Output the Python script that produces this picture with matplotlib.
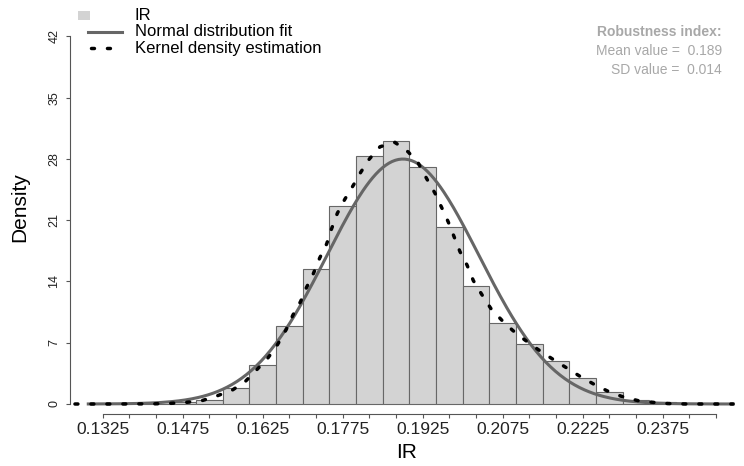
import numpy as np
import matplotlib.pyplot as plt
from matplotlib.lines import Line2D
from matplotlib.patches import Rectangle

plt.rcParams['font.family'] = ['Liberation Sans', 'DejaVu Sans']

# Data
bin_left = [0.140, 0.145, 0.150, 0.155, 0.160, 0.165, 0.170, 0.175, 0.180, 0.185, 0.190,
            0.195, 0.200, 0.205, 0.210, 0.215, 0.220, 0.225, 0.230, 0.235, 0.240]
bin_density = [0.05, 0.2, 0.5, 1.79, 4.45, 8.9, 15.4, 22.6, 28.35, 30.05, 27.05,
               20.25, 13.45, 9.3, 6.9, 4.87, 3.02, 1.33, 0.5, 0.23, 0.05]
bin_width = 0.005

kde_x = [0.1273, 0.1350, 0.1420, 0.1451, 0.1482, 0.1511, 0.1539, 0.1567, 0.1592, 0.1612,
         0.1634, 0.1651, 0.1669, 0.1682, 0.1696, 0.1707, 0.1720, 0.1732, 0.1745, 0.1754,
         0.1765, 0.1779, 0.1795, 0.1809, 0.1825, 0.1845, 0.1873, 0.1898, 0.1917, 0.1933,
         0.1948, 0.1961, 0.1973, 0.1984, 0.1995, 0.2008, 0.2020, 0.2036, 0.2053, 0.2073,
         0.2094, 0.2117, 0.2142, 0.2167, 0.2193, 0.2219, 0.2245, 0.2271, 0.2298, 0.2329,
         0.2357, 0.2385, 0.2420, 0.2507]
kde_y = [0.0, 0.0, 0.02, 0.07, 0.19, 0.38, 0.92, 1.55, 2.55, 3.8,
         5.2, 6.6, 8.5, 10.2, 11.7, 13.3, 14.9, 16.7, 18.3, 20.0,
         21.8, 23.4, 25.0, 26.5, 28.0, 29.4, 29.9, 28.8, 27.5, 25.7,
         24.1, 22.4, 20.8, 19.1, 17.4, 15.9, 14.1, 12.5, 10.9, 9.6,
         8.4, 7.3, 6.2, 5.2, 4.2, 3.2, 2.3, 1.5, 0.87, 0.38,
         0.19, 0.05, 0.0, 0.0]

fit_mean = 0.1888
fit_sd = 0.01425
fit_range = (0.1298, 0.2507)

x_labels = ['0.1325', '0.1475', '0.1625', '0.1775', '0.1925', '0.2075', '0.2225', '0.2375']
y_ticks = [0, 7, 14, 21, 28, 35, 42]

W, H = 744, 466
fig = plt.figure(figsize=(W / 100, H / 100), dpi=100)
ax = fig.add_axes([70 / W, (H - 414) / H, 670 / W, (414 - 22) / H])


def fx(px):
    return px / W


def fy(py):
    return 1 - py / H


kde_style = dict(color='black', lw=2.5, linestyle=(0, (0.85, 3.75)), dash_capstyle='round')

# Histogram
ax.bar(bin_left, bin_density, width=bin_width, align='edge', color='#d3d3d3',
       edgecolor='#676767', linewidth=0.8, zorder=1)

# Normal fit
xs = np.linspace(fit_range[0], fit_range[1], 400)
pdf = np.exp(-0.5 * ((xs - fit_mean) / fit_sd) ** 2) / (fit_sd * np.sqrt(2 * np.pi))
ax.plot(xs, pdf, color='#666666', lw=2.2, zorder=2)

# Kernel density
ax.plot(kde_x, kde_y, zorder=3, **kde_style)

ax.set_xlim(0.12637, 0.2520)
ax.set_ylim(-1.143, 43.657)

for s in ['top', 'right']:
    ax.spines[s].set_visible(False)
ax.spines['left'].set_bounds(0, 42)
ax.spines['bottom'].set_bounds(0.1325, 0.2475)
for s in ['left', 'bottom']:
    ax.spines[s].set_color('#555555')
    ax.spines[s].set_linewidth(0.8)

xt = np.round(np.arange(0.1325, 0.2476, 0.005), 4)
labs = []
for v in xt:
    s = '%.4f' % v
    labs.append(s if s in x_labels else '')
ax.set_xticks(xt)
ax.set_xticklabels(labs, fontsize=12.5, color='#222222')
ax.set_yticks(y_ticks)
ax.set_yticklabels([str(v) for v in y_ticks], fontsize=9, color='#222222',
                   rotation=90, va='center')
ax.tick_params(axis='x', length=3, width=0.8, color='#555555', pad=3)
ax.tick_params(axis='y', length=3, width=0.8, color='#555555', pad=4)

# Axis titles
fig.text(fx(20), fy(207), 'Density', rotation=90, ha='center', va='center', fontsize=15)
fig.text(fx(407), fy(453), 'IR', ha='center', va='center', fontsize=15)

# Legend
fig.patches.append(Rectangle((fx(78), fy(20)), 12 / W, 9 / H, transform=fig.transFigure,
                             facecolor='#d3d3d3', edgecolor='none'))
fig.lines.append(Line2D([fx(88), fx(122)], [fy(32), fy(32)], transform=fig.transFigure,
                        color='#666666', lw=2.2))
fig.lines.append(Line2D([fx(91), fx(111)], [fy(48), fy(48)], transform=fig.transFigure,
                        **kde_style))
for label, yy in [('IR', 16), ('Normal distribution fit', 32), ('Kernel density estimation', 48)]:
    fig.text(fx(135), fy(yy), label, ha='left', va='center', fontsize=12)

# Robustness index
fig.text(fx(722), fy(32), 'Robustness index:', ha='right', va='center', fontsize=10,
         fontweight='bold', color='#a8a8a8')
fig.text(fx(722), fy(51), 'Mean value =  0.189', ha='right', va='center', fontsize=10,
         color='#a8a8a8')
fig.text(fx(722), fy(70), 'SD value =  0.014', ha='right', va='center', fontsize=10,
         color='#a8a8a8')

fig.savefig('out.png', dpi=100)
